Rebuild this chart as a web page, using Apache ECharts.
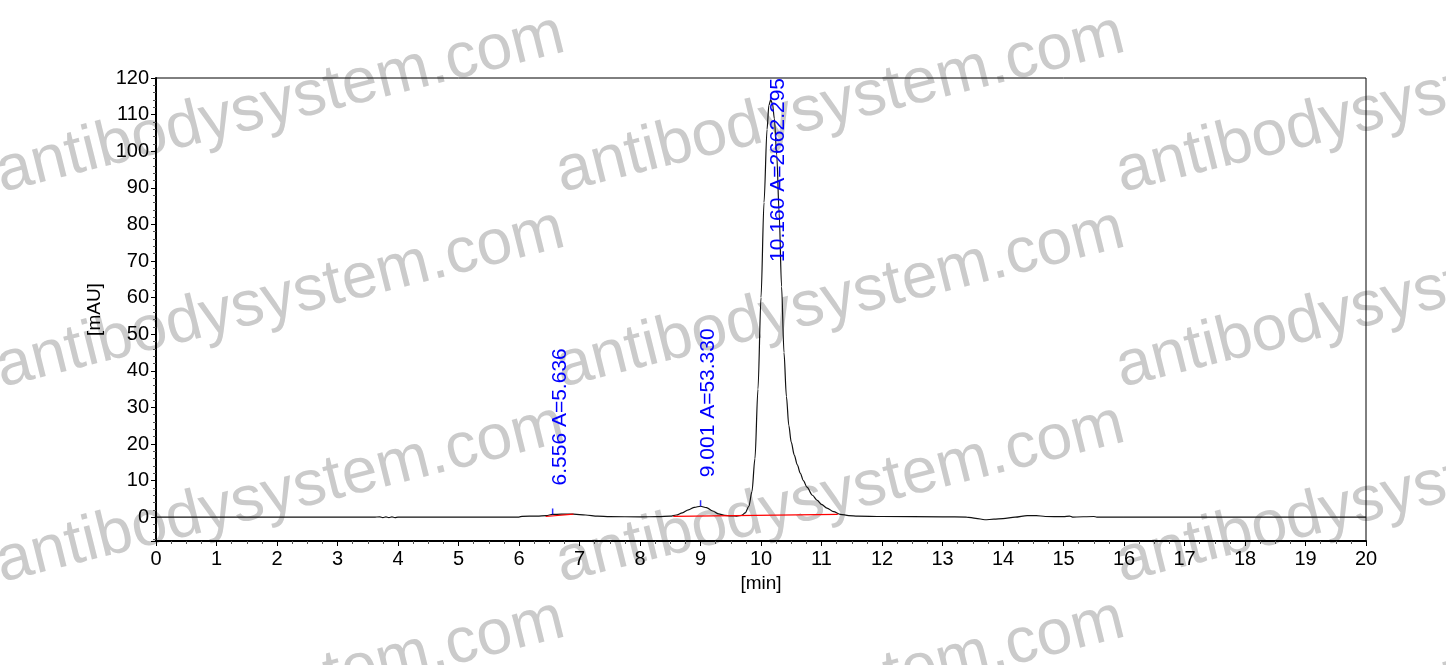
<!DOCTYPE html>
<html lang="en">
<head>
<meta charset="UTF-8" />
<title>Chromatogram</title>
<script src="https://cdn.jsdelivr.net/npm/echarts@6/dist/echarts.min.js"></script>
<style>
    html, body { margin: 0; padding: 0; background: #fff; }
    #main { width: 1446px; height: 665px; }
</style>
</head>
<body>
<div id="main"></div>
<script type="text/javascript">

    // retention time [min] and detector signal [mAU]
    var times = [0, 3.6, 3.7, 3.75, 3.8, 3.85, 3.9, 3.95, 4.0, 4.1, 6.0, 6.05, 6.3, 6.45, 6.556, 6.7, 6.9, 7.1, 7.3, 7.5,
        8.0, 8.3, 8.5, 8.6, 8.7, 8.8, 8.9, 9.0, 9.1, 9.2, 9.3, 9.4, 9.5, 9.6, 9.68, 9.74, 9.8, 9.85, 9.9, 9.95,
        10.0, 10.05, 10.1, 10.13, 10.16, 10.19, 10.22, 10.26, 10.3, 10.34, 10.38, 10.42, 10.46, 10.5, 10.55, 10.6, 10.65, 10.7, 10.76, 10.85,
        10.93, 11.0, 11.09, 11.2, 11.31, 11.45, 11.6, 12.0, 13.0, 13.4, 13.55, 13.7, 13.85, 14.0, 14.2, 14.4, 14.55, 14.7, 15.0, 15.1,
        15.15, 15.5, 15.55, 16.0, 20.0];
    var signal = [0, 0, 0.1, -0.1, 0.1, -0.1, 0.1, -0.1, 0.05, 0, 0.05, 0.25, 0.3, 0.45, 0.75, 0.85, 0.85, 0.6, 0.3, 0.15,
        0.1, 0.15, 0.3, 0.6, 1.2, 2.0, 2.7, 3.0, 2.6, 1.7, 0.9, 0.5, 0.35, 0.3, 0.5, 1.2, 3.0, 7, 16, 35,
        60, 86, 106, 112.5, 114, 113, 109, 99, 83, 63, 45, 33, 25, 20.5, 17, 14.3, 12, 10, 8.2, 6,
        4.6, 3.5, 2.5, 1.5, 0.8, 0.45, 0.3, 0.2, 0.1, 0.05, -0.3, -0.7, -0.55, -0.4, 0, 0.45, 0.45, 0.2, 0.15, 0.3,
        0.05, 0.2, 0.05, 0, 0];

    // integrated peaks
    var peakTimes = [6.556, 9.001, 10.160];
    var peakHeights = [0.75, 3.0, 114];
    var peakAreas = ['5.636', '53.330', '2662.295'];

    // red integration baselines (start / end of each)
    var baseTimes = [[6.44, 6.90], [8.55, 11.27]];
    var baseLevels = [[0.2, 0.85], [0.25, 0.75]];

    var FONT = '"Liberation Sans", Arial, sans-serif';

    var measureCtx = document.createElement('canvas').getContext('2d');
    measureCtx.font = '21px ' + FONT;

    var traceData = times.map(function (t, i) { return [t, signal[i]]; });
    var peakData = peakTimes.map(function (t, i) { return [t, peakHeights[i], i]; });

    var baseSeries = baseTimes.map(function (seg, i) {
        return {
            type: 'line',
            z: 4,
            silent: true,
            showSymbol: false,
            lineStyle: { color: '#ff0000', width: 1.2 },
            data: [[seg[0], baseLevels[i][0]], [seg[1], baseLevels[i][1]]]
        };
    });

    // watermark
    var marks = [];
    [5, 565, 1125].forEach(function (x) {
        [190, 385, 580, 775].forEach(function (y) {
            marks.push({
                type: 'text',
                x: x,
                y: y + 16,
                rotation: 14 * Math.PI / 180,
                z: -10,
                silent: true,
                style: {
                    text: 'antibodysystem.com',
                    fill: '#cbcbcb',
                    font: '64px ' + FONT,
                    verticalAlign: 'bottom'
                }
            });
        });
    });

    var chart = echarts.init(document.getElementById('main'));
    chart.setOption({
        animation: false,
        backgroundColor: '#fff',
        graphic: { elements: marks },
        grid: {
            left: 156, right: 80, top: 78, bottom: 124,
            show: true, borderColor: '#000', borderWidth: 1, backgroundColor: 'transparent'
        },
        xAxis: {
            type: 'value',
            min: 0, max: 20, interval: 1,
            name: '[min]', nameLocation: 'middle', nameGap: 29,
            nameTextStyle: { color: '#000', fontSize: 19, fontFamily: FONT },
            axisLine: { show: true, onZero: false, lineStyle: { color: '#000', width: 2 } },
            axisTick: { show: true, length: 5, lineStyle: { color: '#000' } },
            minorTick: { show: true, splitNumber: 4, length: 3, lineStyle: { color: '#555' } },
            axisLabel: { color: '#000', fontSize: 20, fontFamily: FONT, margin: 8 },
            splitLine: { show: false }
        },
        yAxis: {
            type: 'value',
            min: -6.5, max: 120, splitNumber: 12,
            name: '[mAU]', nameLocation: 'middle', nameGap: 47, nameRotate: 90,
            nameTextStyle: { color: '#000', fontSize: 19, fontFamily: FONT },
            axisLine: { show: true, onZero: false, lineStyle: { color: '#000', width: 2 } },
            axisTick: { show: true, length: 5, lineStyle: { color: '#000' } },
            minorTick: { show: true, splitNumber: 5, length: 3, lineStyle: { color: '#555' } },
            axisLabel: { color: '#000', fontSize: 20, fontFamily: FONT, margin: 7, showMinLabel: false },
            splitLine: { show: false }
        },
        series: [{
            type: 'line',
            z: 3,
            silent: true,
            showSymbol: false,
            smooth: 0.3,
            smoothMonotone: 'x',
            lineStyle: { color: '#111', width: 1.2 },
            data: traceData
        }].concat(baseSeries).concat([{
            type: 'scatter',
            z: 5,
            silent: true,
            symbol: 'rect',
            symbolSize: [1.5, 6],
            symbolOffset: [0, -3],
            itemStyle: { color: '#0000ff' },
            data: peakData
        }, {
            type: 'custom',
            z: 6,
            silent: true,
            clip: false,
            data: peakData,
            renderItem: function (params, api) {
                var i = api.value(2);
                var p = api.coord([api.value(0), api.value(1)]);
                var txt = peakTimes[i].toFixed(3) + ' A=' + peakAreas[i];
                var w = measureCtx.measureText(txt).width;
                var top = params.coordSys.y;
                var y = p[1] - 29;
                var align = 'left';
                if (y - w < top) { y = top; align = 'right'; }
                return {
                    type: 'text',
                    x: p[0] - 3,
                    y: y,
                    rotation: Math.PI / 2,
                    style: {
                        text: txt,
                        fill: '#0000ff',
                        font: '21px ' + FONT,
                        align: align,
                        verticalAlign: 'top'
                    }
                };
            }
        }])
    });
</script>
</body>
</html>
